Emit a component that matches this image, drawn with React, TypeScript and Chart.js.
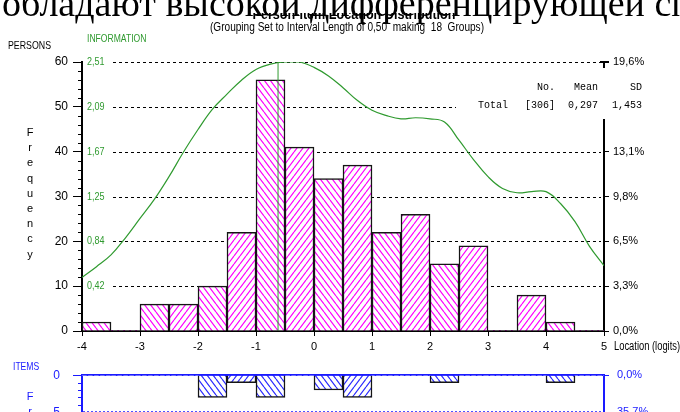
import React, { useEffect, useRef } from 'react';
import { Chart, registerables } from 'chart.js';

Chart.register(...registerables);

// Logit bins (lower edges), interval length 0.50 -> 18 groups
const binLower = [-4, -3.5, -3, -2.5, -2, -1.5, -1, -0.5, 0, 0.5, 1, 1.5, 2, 2.5, 3, 3.5, 4, 4.5];
const binWidth = 0.5;

// Frequencies per bin
const personCounts = [2, 0, 6, 6, 10, 22, 56, 41, 34, 37, 22, 26, 15, 19, 0, 8, 2, 0];
const itemCounts = [0, 0, 0, 0, 3, 1, 3, 0, 2, 3, 0, 0, 1, 0, 0, 0, 1, 0];

// Test information function
const infoLocations = [
  -4, -3.75, -3.5, -3.25, -3, -2.75, -2.5, -2.25, -2, -1.75, -1.5, -1.25, -1, -0.75, -0.5, -0.25,
  0, 0.25, 0.5, 0.75, 1, 1.25, 1.5, 1.75, 2, 2.25, 2.5, 2.75, 3, 3.25, 3.5, 3.75, 4, 4.25, 4.5, 4.75, 5,
];
const infoValues = [
  0.5, 0.6, 0.71, 0.87, 1.05, 1.23, 1.44, 1.67, 1.88, 2.07, 2.21, 2.34, 2.44, 2.49, 2.51, 2.51,
  2.46, 2.38, 2.27, 2.15, 2.06, 2.01, 1.98, 1.99, 1.98, 1.95, 1.78, 1.6, 1.44, 1.33, 1.29, 1.3, 1.3,
  1.19, 1.02, 0.79, 0.61,
];
const infoMax = 2.51;
const infoPeakLocation = -0.62;

// Axis ticks
const personTicks = [0, 10, 20, 30, 40, 50, 60];
const infoTickValues = [0.42, 0.84, 1.25, 1.67, 2.09, 2.51];
const infoTickLabels = ['0,42', '0,84', '1,25', '1,67', '2,09', '2,51'];
const itemTicks = [0, 5, 10, 15];

// Summary statistics
const statsMean = '0,297';
const statsSD = '1,453';

const SANS = "'Liberation Sans', Arial, sans-serif";
const MONO = "'Liberation Mono', 'Courier New', monospace";
const GREEN = '#2f9a2f';
const BLUE = '#1a1aff';
const PINK = '#ff00ff';
const HATCH_BLUE = '#2a2aff';
const FREQ = ['F', 'r', 'e', 'q', 'u', 'e', 'n', 'c', 'y'];

function makeHatch(ctx: CanvasRenderingContext2D, color: string, forward: boolean) {
  const w = 6;
  const h = 8;
  const c = document.createElement('canvas');
  c.width = w;
  c.height = h;
  const g = c.getContext('2d')!;
  g.fillStyle = '#fff';
  g.fillRect(0, 0, w, h);
  g.strokeStyle = color;
  g.lineWidth = 1.2;
  g.beginPath();
  for (let k = -1; k <= 1; k++) {
    if (forward) {
      g.moveTo(k * w, h);
      g.lineTo(k * w + w, 0);
    } else {
      g.moveTo(k * w, 0);
      g.lineTo(k * w + w, h);
    }
  }
  g.stroke();
  return ctx.createPattern(c, 'repeat')!;
}

// condensed text: regular face squeezed horizontally
function narrowText(
  ctx: CanvasRenderingContext2D,
  text: string,
  x: number,
  y: number,
  sx: number,
  align: CanvasTextAlign,
) {
  ctx.save();
  ctx.translate(x, y);
  ctx.scale(sx, 1);
  ctx.textAlign = align;
  ctx.fillText(text, 0, 0);
  ctx.restore();
}

const fmtPct = (v: number) => v.toFixed(1).replace('.', ',') + '%';

export default function App() {
  const topRef = useRef<HTMLCanvasElement>(null);
  const botRef = useRef<HTMLCanvasElement>(null);

  useEffect(() => {
    const total = personCounts.reduce((s, v) => s + v, 0);
    const itemTotal = itemCounts.reduce((s, v) => s + v, 0);
    const tctx = topRef.current!.getContext('2d')!;
    const bctx = botRef.current!.getContext('2d')!;
    const pinkBack = makeHatch(tctx, PINK, false);
    const pinkFwd = makeHatch(tctx, PINK, true);
    const blueBack = makeHatch(bctx, HATCH_BLUE, false);
    const blueFwd = makeHatch(bctx, HATCH_BLUE, true);

    const personDecor = {
      id: 'personDecor',
      beforeDatasetsDraw(chart: any) {
        const { ctx, chartArea: a, scales } = chart;
        ctx.save();
        ctx.strokeStyle = '#000';
        ctx.lineWidth = 1;
        ctx.setLineDash([3, 3]);
        for (const v of personTicks) {
          if (v === 0) continue;
          const py = Math.round(scales.y.getPixelForValue(v)) + 0.5;
          ctx.beginPath();
          ctx.moveTo(113, py);
          ctx.lineTo(a.right - 3, py);
          ctx.stroke();
        }
        ctx.restore();
      },
      afterDraw(chart: any) {
        const { ctx, chartArea: a, scales } = chart;
        ctx.save();
        // minor ticks on the persons axis
        ctx.strokeStyle = '#000';
        ctx.lineWidth = 1;
        for (let v = 2; v < 60; v += 2) {
          if (v % 10 === 0) continue;
          const py = Math.round(scales.y.getPixelForValue(v)) + 0.5;
          ctx.beginPath();
          ctx.moveTo(a.left - 4, py);
          ctx.lineTo(a.left, py);
          ctx.stroke();
        }
        // information scale labels
        ctx.fillStyle = GREEN;
        ctx.font = `11px ${SANS}`;
        ctx.textBaseline = 'middle';
        infoTickValues.forEach((v, i) => {
          narrowText(ctx, infoTickLabels[i], a.left + 5, scales.yInfo.getPixelForValue(v), 0.82, 'left');
        });
        ctx.font = `11px ${SANS}`;
        narrowText(ctx, 'INFORMATION', 87, 39, 0.78, 'left');
        ctx.fillStyle = '#000';
        narrowText(ctx, 'PERSONS', 8, 46, 0.8, 'left');
        ctx.font = `11px ${SANS}`;
        ctx.textAlign = 'center';
        FREQ.forEach((ch, i) => ctx.fillText(ch, 30, 133 + i * 15.2));
        // titles
        ctx.font = `bold 14px ${SANS}`;
        ctx.textBaseline = 'alphabetic';
        narrowText(ctx, 'Person-Item Location Distribution', 354, 18.5, 0.9, 'center');
        ctx.font = `12px ${SANS}`;
        ctx.textBaseline = 'middle';
        narrowText(ctx, '(Grouping Set to Interval Length of 0,50  making  18  Groups)', 347, 28, 0.84, 'center');
        ctx.font = `12px ${SANS}`;
        narrowText(ctx, 'Location (logits)', 614, 347, 0.78, 'left');
        // summary box
        ctx.fillStyle = '#fff';
        ctx.fillRect(456, 68, 210, 51);
        ctx.strokeStyle = '#000';
        ctx.lineWidth = 2;
        ctx.beginPath();
        ctx.moveTo(a.right - 4, a.top);
        ctx.lineTo(a.right + 5, a.top);
        ctx.moveTo(a.right, a.top);
        ctx.lineTo(a.right, a.top + 6);
        ctx.stroke();
        ctx.fillStyle = '#000';
        ctx.font = `10px ${MONO}`;
        ctx.textAlign = 'right';
        ctx.fillText('No.', 555, 87);
        ctx.fillText('Mean', 598, 87);
        ctx.fillText('SD', 642, 87);
        ctx.fillText(`[${total}]`, 555, 105);
        ctx.fillText(statsMean, 598, 105);
        ctx.fillText(statsSD, 642, 105);
        ctx.textAlign = 'left';
        ctx.fillText('Total', 478, 105);
        ctx.restore();
      },
    };

    const itemDecor = {
      id: 'itemDecor',
      beforeDatasetsDraw(chart: any) {
        const { ctx, chartArea: a, scales } = chart;
        ctx.save();
        ctx.strokeStyle = BLUE;
        ctx.lineWidth = 1.5;
        ctx.setLineDash([2, 2]);
        for (const v of itemTicks) {
          if (v === 0) continue;
          const py = Math.round(scales.y.getPixelForValue(v));
          ctx.beginPath();
          ctx.moveTo(a.left + 1, py);
          ctx.lineTo(a.right - 3, py);
          ctx.stroke();
        }
        ctx.restore();
      },
      afterDraw(chart: any) {
        const { ctx, chartArea: a, scales } = chart;
        ctx.save();
        ctx.strokeStyle = BLUE;
        ctx.lineWidth = 1;
        for (let v = 1; v < 15; v++) {
          if (v % 5 === 0) continue;
          const py = Math.round(scales.y.getPixelForValue(v)) + 0.5;
          ctx.beginPath();
          ctx.moveTo(a.left - 4, py);
          ctx.lineTo(a.left, py);
          ctx.stroke();
        }
        ctx.fillStyle = BLUE;
        ctx.font = `11px ${SANS}`;
        ctx.textBaseline = 'middle';
        narrowText(ctx, 'ITEMS', 13, 12, 0.78, 'left');
        ctx.textAlign = 'center';
        FREQ.forEach((ch, i) => ctx.fillText(ch, 30, 42 + i * 15.2));
        ctx.restore();
      },
    };

    const top = new Chart(topRef.current!, {
      type: 'bar',
      data: {
        datasets: [
          {
            type: 'line',
            data: infoLocations.map((x, i) => ({ x, y: infoValues[i] })),
            yAxisID: 'yInfo',
            borderColor: GREEN,
            borderWidth: 1.2,
            pointRadius: 0,
            tension: 0.4,
            order: 0,
          },
          {
            type: 'line',
            data: [
              { x: infoPeakLocation, y: 0 },
              { x: infoPeakLocation, y: infoMax },
            ],
            yAxisID: 'yInfo',
            borderColor: GREEN,
            borderWidth: 1,
            pointRadius: 0,
            order: 1,
          },
          {
            type: 'bar',
            data: binLower.map((b, i) => ({ x: b + binWidth / 2, y: personCounts[i] })),
            yAxisID: 'y',
            backgroundColor: binLower.map((_, i) => (i % 2 === 0 ? pinkBack : pinkFwd)),
            borderColor: '#151515',
            borderWidth: (c: any) => (c.raw && c.raw.y ? 1.5 : 0),
            barPercentage: 1,
            categoryPercentage: 1,
            order: 2,
          },
        ] as any,
      },
      options: {
        responsive: false,
        animation: false,
        devicePixelRatio: 1,
        layout: { padding: { top: 62, left: 0, right: 0, bottom: 0 } },
        plugins: { legend: { display: false }, tooltip: { enabled: false } },
        scales: {
          x: {
            type: 'linear',
            min: -4,
            max: 5,
            offset: false,
            position: 'bottom',
            ticks: { stepSize: 1, color: '#000', font: { family: SANS, size: 11 }, padding: 4 },
            grid: { display: true, drawOnChartArea: false, drawTicks: true, tickLength: 5, color: '#000', offset: false },
            border: { display: true, color: '#000', width: 2 },
            afterFit: (s: any) => {
              s.height = 24;
            },
          },
          y: {
            type: 'linear',
            position: 'left',
            min: 0,
            max: 60,
            ticks: { stepSize: 10, color: '#000', font: { family: SANS, size: 12 }, padding: 5 },
            grid: { drawOnChartArea: false, tickLength: 9, color: '#000' },
            border: { color: '#000', width: 2 },
            afterFit: (s: any) => {
              s.width = 82;
            },
          },
          yPct: {
            type: 'linear',
            position: 'right',
            min: 0,
            max: (60 / total) * 100,
            afterBuildTicks: (s: any) => {
              s.ticks = personTicks.map((v) => ({ value: (v / total) * 100 }));
            },
            ticks: {
              color: '#000',
              font: { family: SANS, size: 11 },
              padding: 4,
              callback: (v: any) => fmtPct(Number(v)),
            },
            grid: { drawOnChartArea: false, tickLength: 5, color: '#000' },
            border: { color: '#000', width: 2 },
            afterFit: (s: any) => {
              s.width = 76;
            },
          },
          yInfo: { type: 'linear', display: false, min: 0, max: infoMax },
        },
      } as any,
      plugins: [personDecor],
    });

    const bot = new Chart(botRef.current!, {
      type: 'bar',
      data: {
        datasets: [
          {
            data: binLower.map((b, i) => ({ x: b + binWidth / 2, y: itemCounts[i] })),
            backgroundColor: binLower.map((_, i) => (i % 2 === 0 ? blueBack : blueFwd)),
            borderColor: '#151515',
            borderWidth: (c: any) => (c.raw && c.raw.y ? 1.5 : 0),
            barPercentage: 1,
            categoryPercentage: 1,
          },
        ] as any,
      },
      options: {
        responsive: false,
        animation: false,
        devicePixelRatio: 1,
        layout: { padding: { top: 13.3, left: 0, right: 0, bottom: 68.5 } },
        plugins: { legend: { display: false }, tooltip: { enabled: false } },
        scales: {
          x: {
            type: 'linear',
            min: -4,
            max: 5,
            offset: false,
            position: 'top',
            ticks: { display: false },
            grid: { display: false, offset: false },
            border: { display: true, color: BLUE, width: 2 },
            afterFit: (s: any) => {
              s.height = 0;
            },
          },
          y: {
            type: 'linear',
            position: 'left',
            min: 0,
            max: 15,
            reverse: true,
            ticks: { stepSize: 5, color: BLUE, font: { family: SANS, size: 12 }, padding: 13 },
            grid: { drawOnChartArea: false, tickLength: 9, color: BLUE },
            border: { color: BLUE, width: 2 },
            afterFit: (s: any) => {
              s.width = 82;
            },
          },
          yPct: {
            type: 'linear',
            position: 'right',
            min: 0,
            max: (15 / itemTotal) * 100,
            reverse: true,
            afterBuildTicks: (s: any) => {
              s.ticks = itemTicks.map((v) => ({ value: (v / itemTotal) * 100 }));
            },
            ticks: {
              color: BLUE,
              font: { family: SANS, size: 11 },
              padding: 8,
              callback: (v: any) => fmtPct(Number(v)),
            },
            grid: { drawOnChartArea: false, tickLength: 5, color: BLUE },
            border: { color: BLUE, width: 2 },
            afterFit: (s: any) => {
              s.width = 76;
            },
          },
        },
      } as any,
      plugins: [itemDecor],
    });

    return () => {
      top.destroy();
      bot.destroy();
    };
  }, []);

  return (
    <div
      style={{
        position: 'fixed',
        left: 0,
        top: 0,
        width: 680,
        height: 412,
        overflow: 'hidden',
        background: '#fff',
      }}
    >
      <canvas ref={topRef} width={680} height={355} style={{ position: 'absolute', left: 0, top: 0 }} />
      <canvas ref={botRef} width={680} height={200} style={{ position: 'absolute', left: 0, top: 355 }} />
      <div style={{ position: 'absolute', left: 0, top: 0, width: 680, height: 13, background: '#fff' }} />
      <div
        style={{
          position: 'absolute',
          left: 2,
          top: -18,
          whiteSpace: 'nowrap',
          fontFamily: "'Liberation Serif', 'Times New Roman', serif",
          fontSize: 38,
          lineHeight: '43px',
          color: '#000',
        }}
      >
        обладают высокой дифференцирующей способностью
      </div>
    </div>
  );
}
